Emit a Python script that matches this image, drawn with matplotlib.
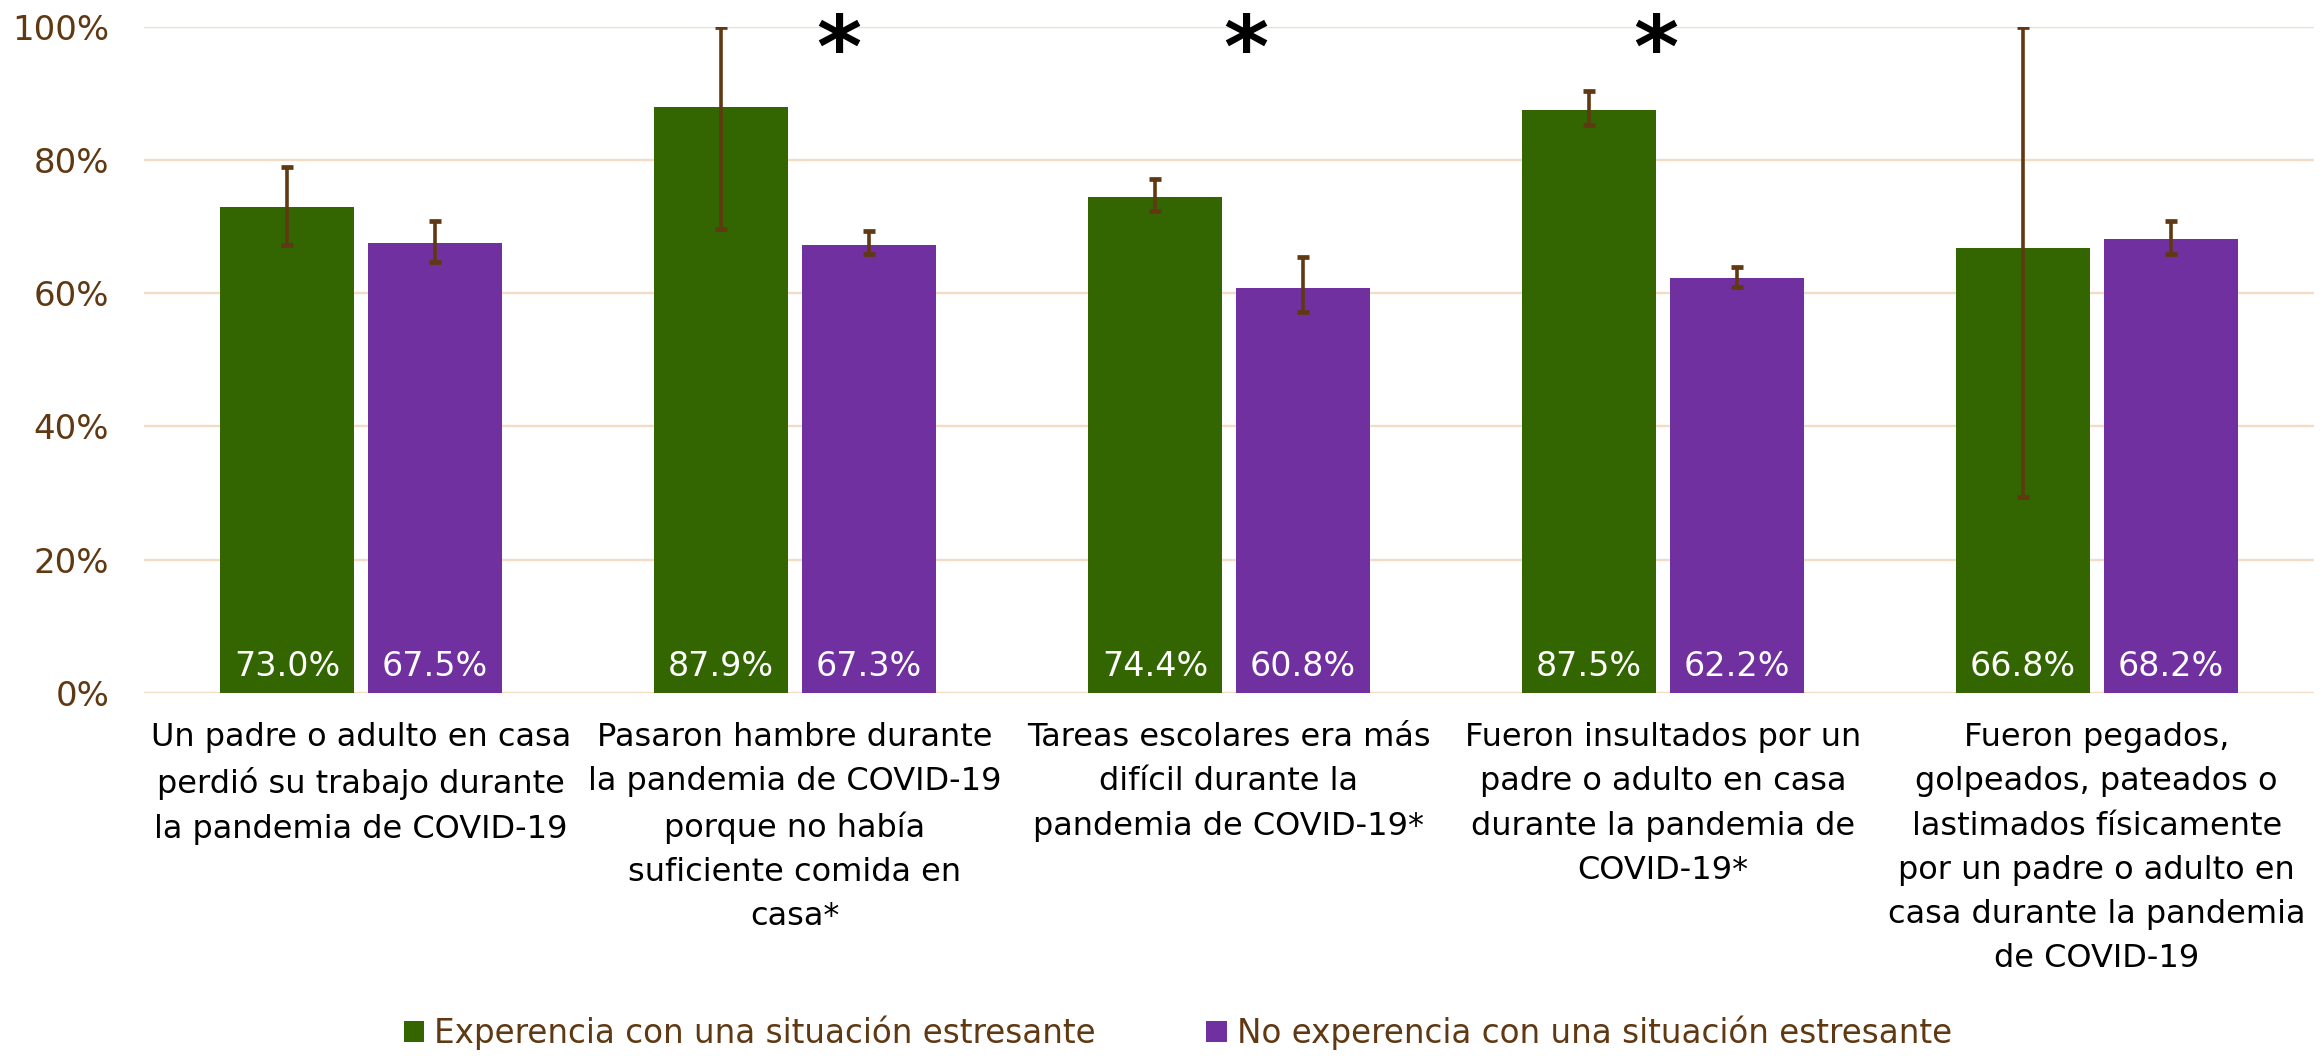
import matplotlib
matplotlib.use('Agg')
import matplotlib.pyplot as plt
import numpy as np

# ── data ──────────────────────────────────────────────────────────────────────
categories = [
    'Un padre o adulto en casa\nperdió su trabajo durante\nla pandemia de COVID-19',
    'Pasaron hambre durante\nla pandemia de COVID-19\nporque no había\nsuficiente comida en\ncasa*',
    'Tareas escolares era más\ndifícil durante la\npandemia de COVID-19*',
    'Fueron insultados por un\npadre o adulto en casa\ndurante la pandemia de\nCOVID-19*',
    'Fueron pegados,\ngolpeados, pateados o\nlastimados físicamente\npor un padre o adulto en\ncasa durante la pandemia\nde COVID-19',
]
series_names = ['Experencia con una situación estresante',
                'No experencia con una situación estresante']
exp_vals = [73.0, 87.9, 74.4, 87.5, 66.8]
noexp_vals = [67.5, 67.3, 60.8, 62.2, 68.2]
exp_low = [67.3, 69.6, 72.4, 85.2, 29.4]
exp_high = [79.0, 100.0, 77.1, 90.4, 100.0]
noexp_low = [64.6, 65.8, 57.1, 60.9, 65.8]
noexp_high = [70.8, 69.3, 65.4, 63.9, 70.8]
significant = [False, True, True, True, False]
star_shift = [0.0, 0.10, 0.04, -0.016, 0.0]
yticks = [0, 20, 40, 60, 80, 100]

GREEN = '#336600'
PURPLE = '#7030A0'
BROWN = '#603913'
GRID = '#F2DCC6'

plt.rcParams['font.family'] = ['DejaVu Sans']

fig = plt.figure(figsize=(23.23, 10.56), dpi=100)
ax = fig.add_axes([0.062, 0.3438, 0.934, 0.631])

x = np.arange(len(categories))
w = 0.309
off = 0.1705

exp = np.array(exp_vals) / 100
noexp = np.array(noexp_vals) / 100
exp_err = [exp - np.array(exp_low) / 100, np.array(exp_high) / 100 - exp]
noexp_err = [noexp - np.array(noexp_low) / 100, np.array(noexp_high) / 100 - noexp]

ax.bar(x - off, exp, w, color=GREEN, label=series_names[0], zorder=2)
ax.bar(x + off, noexp, w, color=PURPLE, label=series_names[1], zorder=2)
ekw = dict(fmt='none', ecolor=BROWN, elinewidth=2.6, capsize=4.5, capthick=3.4, zorder=3)
ax.errorbar(x - off, exp, yerr=exp_err, **ekw)
ax.errorbar(x + off, noexp, yerr=noexp_err, **ekw)

for i in range(len(categories)):
    ax.text(x[i] - off, 0.026, f'{exp_vals[i]:.1f}%', ha='center', va='baseline',
            color='white', fontsize=24, zorder=4)
    ax.text(x[i] + off, 0.026, f'{noexp_vals[i]:.1f}%', ha='center', va='baseline',
            color='white', fontsize=24, zorder=4)
    if significant[i]:
        ax.text(x[i] + star_shift[i], 0.925, '*', ha='center', va='baseline',
                fontsize=62, fontweight='bold', color='black', clip_on=False, zorder=5)

ax.set_xlim(-0.5, len(categories) - 0.5)
ax.set_ylim(0, 1)
ax.set_yticks([t / 100 for t in yticks])
ax.set_yticklabels([f'{t}%' for t in yticks], color=BROWN, fontsize=24.5)
ax.set_xticks(x)
ax.set_xticklabels(categories, fontsize=23, color='black', linespacing=1.55,
                   multialignment='center')
ax.tick_params(axis='y', length=0, pad=25)
ax.tick_params(axis='x', length=0, pad=21)
ax.grid(axis='y', color=GRID, linewidth=1.7, zorder=0)
ax.set_axisbelow(True)
for s in ax.spines.values():
    s.set_visible(False)

leg = fig.legend(loc='center', bbox_to_anchor=(0.507, 0.022), ncol=2, frameon=False,
                 fontsize=23.5, handlelength=0.62, handleheight=0.62,
                 handletextpad=0.3, columnspacing=3.4, borderaxespad=0)
for t in leg.get_texts():
    t.set_color(BROWN)

fig.savefig('out.png', dpi=100, facecolor='white')
